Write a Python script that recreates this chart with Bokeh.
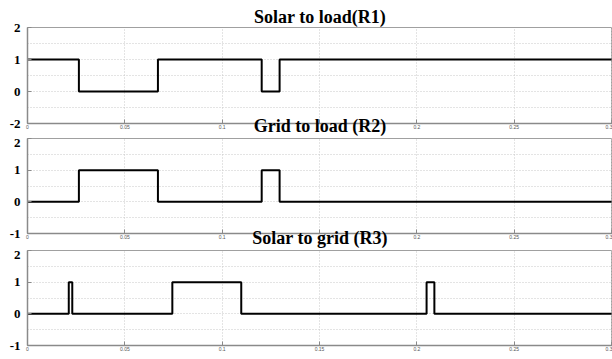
from bokeh.plotting import figure
from bokeh.layouts import column
from bokeh.models import FixedTicker, Range1d
from bokeh.embed import file_html
from bokeh.resources import INLINE

# ---- data ----
TIME_R1 = [0, 0.0264, 0.0670, 0.1203, 0.1295, 0.3]
VAL_R1 = [1, 0, 1, 0, 1, 1]
TIME_R2 = [0, 0.0264, 0.0670, 0.1203, 0.1295, 0.3]
VAL_R2 = [0, 1, 0, 1, 0, 0]
TIME_R3 = [0, 0.0212, 0.0230, 0.0744, 0.1098, 0.2050, 0.2090, 0.3]
VAL_R3 = [0, 1, 0, 1, 0, 1, 0, 0]
TITLES = ["Solar to load(R1)", "Grid to load (R2)", "Solar to grid (R3)"]
XTICKS = [0, 0.05, 0.1, 0.15, 0.2, 0.25, 0.3]
XTICK_LABELS = ["0", "0.05", "0.1", "0.15", "0.2", "0.25", "0.3"]
XTICK_LABELS_UNDER_TITLE = ["0", "0.05", "0.1", "", "0.2", "0.25", "0.3"]
YTICKS = [-1, 0, 1, 2]
YMINOR = [-0.5, 0.5, 1.5]
YTICK_LABELS_R1 = ["-2", "0", "1", "2"]
YTICK_LABELS = ["-1", "0", "1", "2"]

W = 612
SERIF = "Liberation Serif"


def make(times, vals, ylabels, xlabels, height, top, bottom):
    p = figure(width=W, height=height, output_backend="svg", toolbar_location=None,
               x_range=Range1d(0, 0.3005), y_range=Range1d(-1, 2),
               min_border_left=27, min_border_right=0,
               min_border_top=top, min_border_bottom=bottom)
    p.background_fill_color = "white"
    p.border_fill_color = "white"
    p.outline_line_color = "#a0a0a0"
    p.outline_line_width = 1

    p.xaxis.ticker = FixedTicker(ticks=XTICKS)
    p.xaxis.major_label_overrides = dict(zip(XTICKS, xlabels))
    p.yaxis.ticker = FixedTicker(ticks=YTICKS, minor_ticks=YMINOR)
    p.yaxis.major_label_overrides = dict(zip(YTICKS, ylabels))

    for ax in (p.xaxis, p.yaxis):
        ax.axis_line_color = "#8a8a8a"
        ax.axis_line_width = 1.5
        ax.major_tick_in = 4
        ax.major_tick_out = 0
        ax.major_tick_line_color = "#8a8a8a"
        ax.minor_tick_line_color = None
    p.xaxis.major_label_text_font_size = "5px"
    p.xaxis.major_label_text_color = "#555555"
    p.xaxis.major_label_standoff = 1
    p.yaxis.major_label_text_font = SERIF
    p.yaxis.major_label_text_font_style = "bold"
    p.yaxis.major_label_text_font_size = "13px"
    p.yaxis.major_label_text_color = "black"
    p.yaxis.major_label_standoff = 3

    p.xgrid.grid_line_color = "#c8c8c8"
    p.xgrid.grid_line_dash = "1 2"
    p.ygrid.grid_line_color = "#c8c8c8"
    p.ygrid.grid_line_dash = "1 2"
    p.ygrid.minor_grid_line_color = "#c8c8c8"
    p.ygrid.minor_grid_line_dash = "1 2"

    p.step(times, vals, mode="after", line_color="black", line_width=2)
    return p


def axis_title(p, text, standoff):
    p.xaxis.axis_label = text
    p.xaxis.axis_label_text_font = SERIF
    p.xaxis.axis_label_text_font_style = "bold"
    p.xaxis.axis_label_text_font_size = "18px"
    p.xaxis.axis_label_text_color = "black"
    p.xaxis.axis_label_standoff = standoff


p1 = make(TIME_R1, VAL_R1, YTICK_LABELS_R1, XTICK_LABELS_UNDER_TITLE, 138, 27, 0)
p2 = make(TIME_R2, VAL_R2, YTICK_LABELS, XTICK_LABELS_UNDER_TITLE, 112, 0, 0)
p3 = make(TIME_R3, VAL_R3, YTICK_LABELS, XTICK_LABELS, 103, 0, 0)

p1.title.text = TITLES[0]
p1.title.align = "center"
p1.title.text_font = SERIF
p1.title.text_font_style = "bold"
p1.title.text_font_size = "18px"
p1.title.text_color = "black"
p1.title.standoff = 1

axis_title(p1, TITLES[1], -16)
axis_title(p2, TITLES[2], -14)

layout = column(p1, p2, p3, spacing=0)
open("out.html", "w").write(file_html(layout, INLINE))
